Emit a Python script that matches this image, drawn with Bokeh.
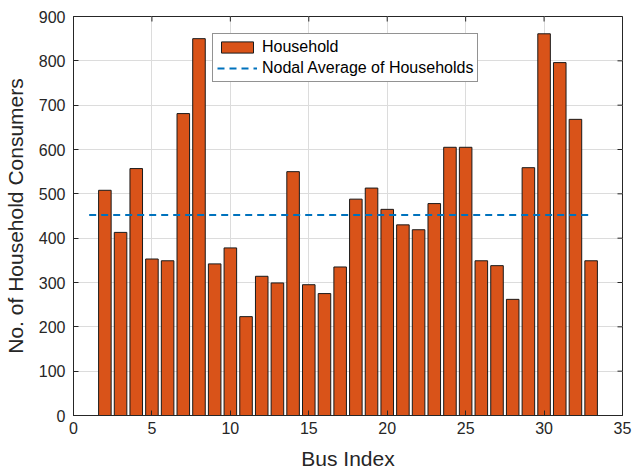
import math
from bokeh.plotting import figure
from bokeh.models import ColumnDataSource, Legend, LegendItem, FixedTicker, Range1d
from bokeh.embed import file_html
from bokeh.resources import INLINE

# Data
bus_index = list(range(2, 34))
households = [508, 413, 557, 353, 349, 681, 850, 342, 378, 223, 314, 299, 550, 295, 275, 335,
              488, 513, 465, 430, 419, 478, 605, 605, 349, 338, 262, 559, 861, 796, 668, 349]
avg_x = [1, 33]
avg_y = [452, 452]
x_ticks = [0, 5, 10, 15, 20, 25, 30, 35]
y_ticks = [0, 100, 200, 300, 400, 500, 600, 700, 800, 900]
X_MAX = 35
Y_MAX = 900

FONT = "Liberation Sans"
DARK = "#262626"

p = figure(width=632, height=475, output_backend="svg", toolbar_location=None,
           x_range=Range1d(0, X_MAX), y_range=Range1d(0, Y_MAX),
           min_border_left=72, min_border_right=10, min_border_top=16, min_border_bottom=60)

p.outline_line_color = DARK
p.outline_line_width = 1
p.background_fill_color = "white"
p.border_fill_color = "white"

src = ColumnDataSource(dict(x=bus_index, top=households))
bars = p.vbar(x="x", top="top", width=0.8, source=src, fill_color="#D95319",
              line_color="#1a1a1a", line_width=1)
avg = p.line(avg_x, avg_y, line_color="#0072BD", line_width=2, line_dash="7 5")

for ax in (p.xaxis[0], p.yaxis[0]):
    ax.major_tick_in = 5
    ax.major_tick_out = 0
    ax.minor_tick_in = 0
    ax.minor_tick_out = 0
    ax.axis_line_color = DARK
    ax.major_tick_line_color = DARK
    ax.major_label_text_color = DARK
    ax.major_label_text_font = FONT
    ax.major_label_text_font_size = "16px"
    ax.axis_label_text_font = FONT
    ax.axis_label_text_font_size = "21px"
    ax.axis_label_text_font_style = "normal"
    ax.axis_label_text_color = DARK

p.xaxis[0].ticker = FixedTicker(ticks=x_ticks)
p.yaxis[0].ticker = FixedTicker(ticks=y_ticks)
p.xaxis[0].axis_label = "Bus Index"
p.yaxis[0].axis_label = "No. of Household Consumers"
p.xaxis[0].major_label_standoff = 6
p.yaxis[0].major_label_standoff = 8
p.xaxis[0].axis_label_standoff = 10
p.yaxis[0].axis_label_standoff = 9

# box ticks on the right and top edges (MATLAB "box on")
p.ray(x=[X_MAX] * len(y_ticks), y=y_ticks, length=5, length_units="screen",
      angle=math.pi, line_color=DARK, line_width=1)
p.ray(x=x_ticks, y=[Y_MAX] * len(x_ticks), length=5, length_units="screen",
      angle=-math.pi / 2, line_color=DARK, line_width=1)

p.xgrid.ticker = FixedTicker(ticks=x_ticks)
p.ygrid.ticker = FixedTicker(ticks=y_ticks)
p.xgrid.grid_line_color = "#dcdcdc"
p.ygrid.grid_line_color = "#dcdcdc"
p.xgrid.grid_line_width = 1
p.ygrid.grid_line_width = 1

legend = Legend(items=[LegendItem(label="Household", renderers=[bars]),
                       LegendItem(label="Nodal Average of Households", renderers=[avg])],
                location=(139, 333))
legend.label_text_font = FONT
legend.label_text_font_size = "16px"
legend.label_text_color = "black"
legend.border_line_color = DARK
legend.border_line_width = 1
legend.background_fill_color = "white"
legend.background_fill_alpha = 1
legend.glyph_width = 40
legend.glyph_height = 14
legend.label_standoff = 5
legend.padding = 4
legend.spacing = 3
legend.margin = 0
legend.label_height = 17
p.add_layout(legend, "center")

open("out.html", "w").write(file_html(p, INLINE))
